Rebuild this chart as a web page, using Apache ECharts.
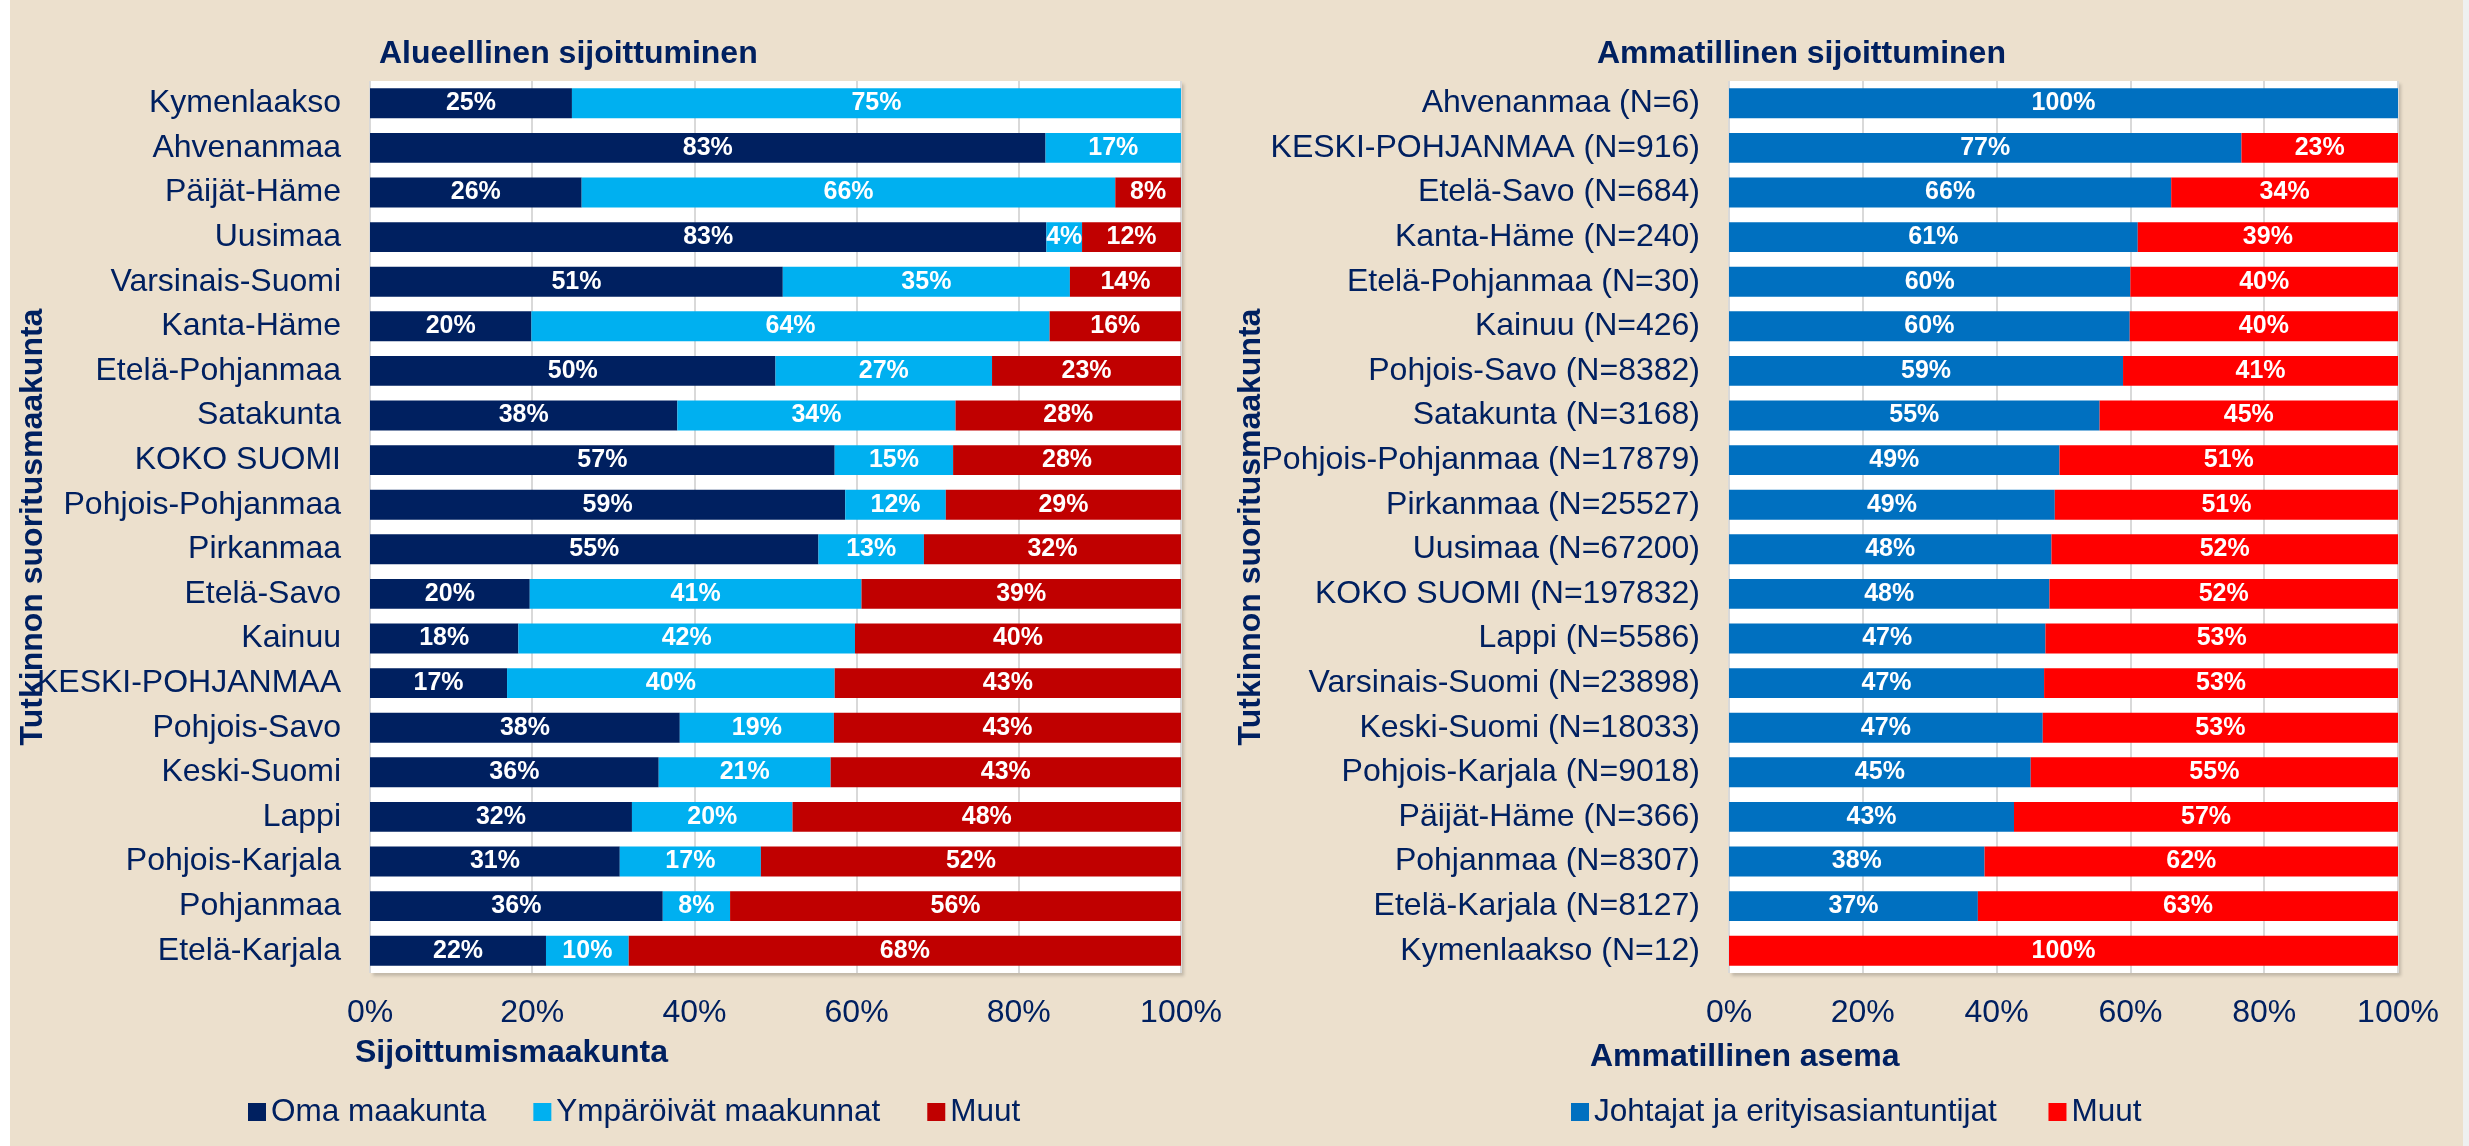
<!DOCTYPE html>
<html>
<head>
<meta charset="utf-8">
<script src="https://cdn.jsdelivr.net/npm/echarts@6/dist/echarts.min.js"></script>
<style>
html,body{margin:0;padding:0;background:#ECE0CD;}
#chart{width:2469px;height:1146px;}
</style>
</head>
<body>
<div id="chart"></div>
<script>
// ---- Data: left chart (Alueellinen sijoittuminen) ----
const leftCategories = ['Kymenlaakso','Ahvenanmaa','Päijät-Häme','Uusimaa','Varsinais-Suomi','Kanta-Häme','Etelä-Pohjanmaa','Satakunta','KOKO SUOMI','Pohjois-Pohjanmaa','Pirkanmaa','Etelä-Savo','Kainuu','KESKI-POHJANMAA','Pohjois-Savo','Keski-Suomi','Lappi','Pohjois-Karjala','Pohjanmaa','Etelä-Karjala'];
const omaMaakunta = [24.9, 83.3, 26.1, 83.4, 50.9, 19.9, 50.0, 37.9, 57.3, 58.6, 55.3, 19.7, 18.3, 16.9, 38.2, 35.6, 32.3, 30.8, 36.1, 21.7];
const ymparoivat  = [75.1, 16.7, 65.8, 4.4, 35.4, 63.9, 26.7, 34.3, 14.6, 12.4, 13.0, 40.9, 41.5, 40.4, 19.0, 21.2, 19.8, 17.4, 8.3, 10.2];
const muutLeft    = [0, 0, 8.1, 12.2, 13.7, 16.2, 23.3, 27.8, 28.1, 29.0, 31.7, 39.4, 40.2, 42.7, 42.8, 43.2, 47.9, 51.8, 55.6, 68.1];

// ---- Data: right chart (Ammatillinen sijoittuminen) ----
const rightCategories = ['Ahvenanmaa (N=6)','KESKI-POHJANMAA (N=916)','Etelä-Savo (N=684)','Kanta-Häme (N=240)','Etelä-Pohjanmaa (N=30)','Kainuu (N=426)','Pohjois-Savo (N=8382)','Satakunta (N=3168)','Pohjois-Pohjanmaa (N=17879)','Pirkanmaa (N=25527)','Uusimaa (N=67200)','KOKO SUOMI (N=197832)','Lappi (N=5586)','Varsinais-Suomi (N=23898)','Keski-Suomi (N=18033)','Pohjois-Karjala (N=9018)','Päijät-Häme (N=366)','Pohjanmaa (N=8307)','Etelä-Karjala (N=8127)','Kymenlaakso (N=12)'];
const johtajat  = [100, 76.6, 66.1, 61.1, 60.0, 59.9, 58.9, 55.4, 49.4, 48.7, 48.2, 47.9, 47.3, 47.1, 46.9, 45.1, 42.6, 38.2, 37.2, 0];
const muutRight = [0, 23.4, 33.9, 38.9, 40.0, 40.1, 41.1, 44.6, 50.6, 51.3, 51.8, 52.1, 52.7, 52.9, 53.1, 54.9, 57.4, 61.8, 62.8, 100];

// ---- Text ----
const leftTitle = 'Alueellinen sijoittuminen';
const rightTitle = 'Ammatillinen sijoittuminen';
const leftXName = 'Sijoittumismaakunta';
const rightXName = 'Ammatillinen asema';
const yName = 'Tutkinnon suoritusmaakunta';
const leftSeriesNames = ['Oma maakunta', 'Ympäröivät maakunnat', 'Muut'];
const rightSeriesNames = ['Johtajat ja erityisasiantuntijat', 'Muut'];

const FONT = "'Liberation Sans', Arial, sans-serif";
const NAVY = '#002060';
const BG = '#ECE0CD';

const chart = echarts.init(document.getElementById('chart'));

function xAxisFor(gridIndex) {
  return {
    type: 'value', gridIndex: gridIndex, min: 0, max: 100, interval: 20,
    axisLine: {show: false}, axisTick: {show: false},
    splitLine: {show: true, lineStyle: {color: '#D9D9D9', width: 2}},
    axisLabel: {formatter: '{value}%', color: NAVY, fontSize: 32, fontFamily: FONT, margin: 24}
  };
}
function yAxisFor(gridIndex, cats) {
  return {
    type: 'category', gridIndex: gridIndex, data: cats, inverse: true,
    axisLine: {show: false}, axisTick: {show: false}, splitLine: {show: false},
    axisLabel: {color: NAVY, fontSize: 32, fontFamily: FONT, margin: 29}
  };
}
function labelCfg() {
  return {
    show: true, position: 'inside', color: '#FFFFFF', fontSize: 25, fontWeight: 'bold', fontFamily: FONT,
    formatter: p => p.value > 0 ? Math.round(p.value) + '%' : ''
  };
}
function barSeries(name, data, color, xi, yi, stack) {
  return {
    name: name, type: 'bar', stack: stack, xAxisIndex: xi, yAxisIndex: yi,
    data: data, barCategoryGap: '33%',
    itemStyle: {color: color},
    label: labelCfg(),
    emphasis: {disabled: true}
  };
}
function textEl(x, y, text, bold, rotation) {
  return {
    type: 'text', x: x, y: y, rotation: rotation || 0, z: 100,
    style: {text: text, fill: NAVY, fontSize: 32, fontWeight: bold ? 'bold' : 'normal', fontFamily: FONT,
            align: rotation ? 'center' : 'left', verticalAlign: 'middle'}
  };
}

const gridShadow = {show: true, backgroundColor: '#FFFFFF', borderWidth: 0,
  shadowColor: 'rgba(0,0,0,0.18)', shadowBlur: 3, shadowOffsetX: 3, shadowOffsetY: 3};

chart.setOption({
  backgroundColor: BG,
  animation: false,
  textStyle: {fontFamily: FONT},
  grid: [
    Object.assign({left: 370, top: 81, width: 811, height: 892}, gridShadow),
    Object.assign({left: 1729, top: 81, width: 669, height: 892}, gridShadow)
  ],
  xAxis: [xAxisFor(0), xAxisFor(1)],
  yAxis: [yAxisFor(0, leftCategories), yAxisFor(1, rightCategories)],
  legend: [
    {left: 243, top: 1091, itemWidth: 18, itemHeight: 18, itemGap: 47, icon: 'rect',
     data: leftSeriesNames.map(n => ({name: n})),
     textStyle: {color: NAVY, fontSize: 31.5, fontFamily: FONT}, selectedMode: false},
    {left: 1566, top: 1091, itemWidth: 18, itemHeight: 18, itemGap: 43, icon: 'rect',
     data: rightSeriesNames.map(n => ({name: n + ' '})),
     textStyle: {color: NAVY, fontSize: 31.5, fontFamily: FONT}, selectedMode: false}
  ],
  series: [
    barSeries(leftSeriesNames[0], omaMaakunta, '#002060', 0, 0, 'L'),
    barSeries(leftSeriesNames[1], ymparoivat, '#00B0F0', 0, 0, 'L'),
    barSeries(leftSeriesNames[2], muutLeft, '#C00000', 0, 0, 'L'),
    barSeries(rightSeriesNames[0] + ' ', johtajat, '#0070C0', 1, 1, 'R'),
    barSeries(rightSeriesNames[1] + ' ', muutRight, '#FF0000', 1, 1, 'R')
  ],
  graphic: [
    {type: 'rect', shape: {x: 0, y: 0, width: 10, height: 1146}, style: {fill: '#FFFFFF'}, z: 0},
    {type: 'rect', shape: {x: 2463, y: 0, width: 6, height: 1146}, style: {fill: '#EEF0F0'}, z: 0},
    textEl(379, 54, leftTitle, true),
    textEl(1597, 54, rightTitle, true),
    textEl(355, 1053, leftXName, true),
    textEl(1590, 1057, rightXName, true),
    textEl(33, 527, yName, true, Math.PI / 2),
    textEl(1251, 527, yName, true, Math.PI / 2)
  ]
});
</script>
</body>
</html>
